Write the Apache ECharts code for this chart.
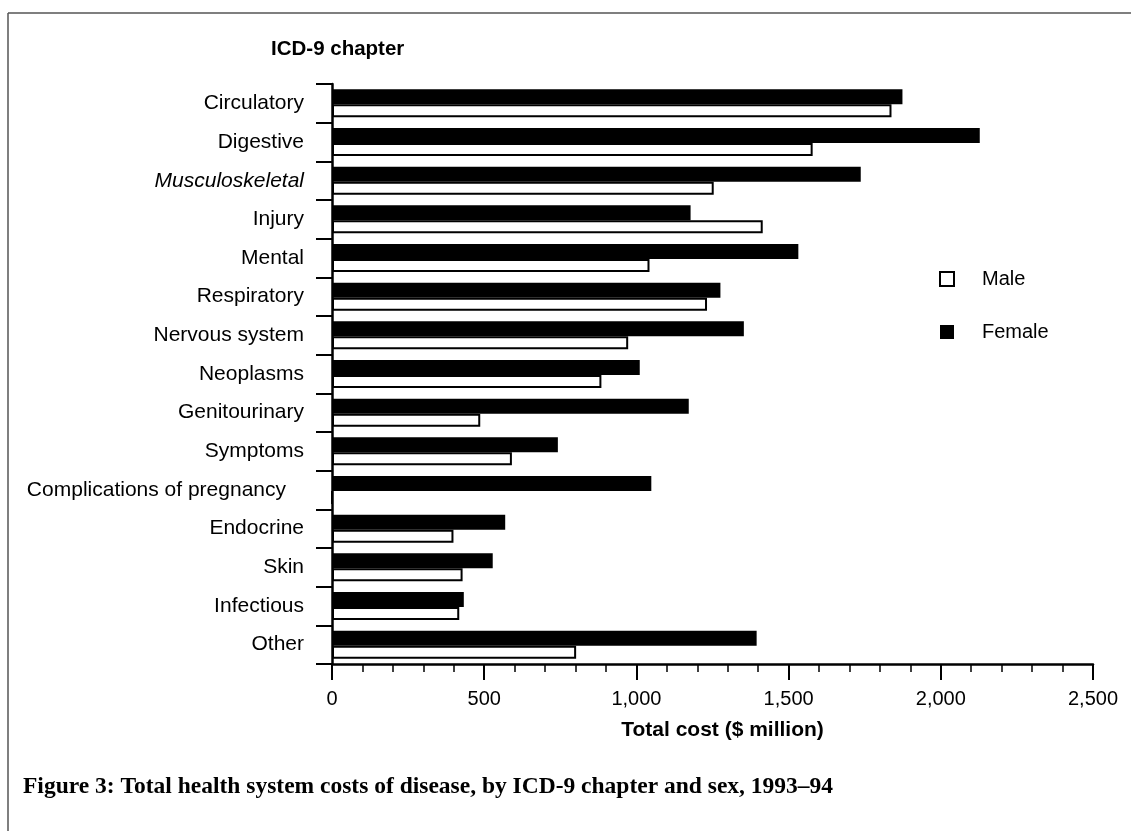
<!DOCTYPE html>
<html>
<head>
<meta charset="utf-8">
<title>Total health system costs of disease</title>
<script src="https://cdn.jsdelivr.net/npm/echarts@6/dist/echarts.min.js"></script>
<style>
    html, body { margin: 0; padding: 0; background: #fff; }
    #main { width: 1131px; height: 831px; }
</style>
</head>
<body>
<div id="main"></div>
<script>
    // ICD-9 chapters, top to bottom
    var chapters = ['Circulatory', 'Digestive', 'Musculoskeletal', 'Injury', 'Mental', 'Respiratory',
        'Nervous system', 'Neoplasms', 'Genitourinary', 'Symptoms', 'Complications of pregnancy',
        'Endocrine', 'Skin', 'Infectious', 'Other'];
    // total cost, $ million
    var female = [1874, 2128, 1737, 1178, 1532, 1276, 1353, 1011, 1172, 742, 1049, 569, 528, 433, 1395];
    var male = [1838, 1579, 1254, 1415, 1043, 1232, 973, 885, 487, 591, 0, 399, 429, 418, 802];
    var legendNames = ['Male', 'Female'];
    var xMax = 2500;
    var xStep = 500;

    var myChart = echarts.init(document.getElementById('main'));
    var option = {
        backgroundColor: '#fff',
        animation: false,
        textStyle: { fontFamily: 'Liberation Sans, Arial, sans-serif', color: '#000' },
        title: [
            {
                text: 'ICD-9 chapter',
                left: 266, top: 34,
                textStyle: { fontSize: 20.5, fontWeight: 'bold', color: '#000', fontFamily: 'Liberation Sans' }
            },
            {
                text: 'Figure 3: Total health system costs of disease, by ICD-9 chapter and sex, 1993\u201394',
                left: 18, top: 770,
                textStyle: { fontSize: 23.5, fontWeight: 'bold', color: '#000', fontFamily: 'Liberation Serif' }
            }
        ],
        legend: {
            orient: 'vertical',
            left: 934, top: 264,
            icon: 'rect',
            itemWidth: 14, itemHeight: 14,
            itemGap: 33,
            data: [
                { name: legendNames[0], itemStyle: { color: '#fff', borderColor: '#000', borderWidth: 2 } },
                { name: legendNames[1], itemStyle: { color: '#000', borderWidth: 0 } }
            ],
            textStyle: { fontSize: 20, color: '#000', padding: [0, 0, 0, 23] }
        },
        grid: { left: 332, right: 38, top: 84, bottom: 167 },
        xAxis: {
            type: 'value',
            min: 0, max: xMax, interval: xStep,
            name: 'Total cost ($ million)',
            nameLocation: 'middle',
            nameGap: 56,
            nameTextStyle: { fontSize: 21, fontWeight: 'bold', color: '#000', padding: [0, 0, 0, 20] },
            axisLine: { show: true, lineStyle: { color: '#000', width: 2.5 } },
            axisTick: { show: true, length: 16, lineStyle: { color: '#000', width: 2 } },
            minorTick: { show: true, splitNumber: 5, length: 8, lineStyle: { color: '#000', width: 1.5 } },
            splitLine: { show: false },
            axisLabel: {
                fontSize: 20, color: '#000', margin: 25,
                formatter: function (v) { return v.toLocaleString('en-US'); }
            }
        },
        yAxis: {
            type: 'category',
            inverse: true,
            data: chapters,
            axisLine: { show: true, lineStyle: { color: '#000', width: 2.5 } },
            axisTick: { show: true, length: 16, lineStyle: { color: '#000', width: 2 } },
            axisLabel: {
                fontSize: 21, color: '#000', margin: 28,
                formatter: function (v) {
                    if (v === 'Musculoskeletal') return '{i|' + v + '}';
                    if (v === 'Complications of pregnancy') return '{p|' + v + '}';
                    return v;
                },
                rich: {
                    i: { fontSize: 21, fontStyle: 'italic', color: '#000' },
                    p: { fontSize: 21, color: '#000', padding: [0, 18, 0, 0] }
                }
            }
        },
        series: [
            {
                name: 'Female',
                type: 'bar',
                data: female,
                barWidth: 15,
                barGap: '0%',
                itemStyle: { color: '#000' }
            },
            {
                name: 'Male',
                type: 'bar',
                data: male,
                barWidth: 13,
                barGap: '0%',
                itemStyle: { color: '#fff', borderColor: '#000', borderWidth: 2 }
            }
        ],
        graphic: [
            // scanned page frame
            { type: 'line', shape: { x1: 8, y1: 13, x2: 1131, y2: 13 }, style: { stroke: '#555', lineWidth: 1.5 } },
            { type: 'line', shape: { x1: 8, y1: 13, x2: 8, y2: 831 }, style: { stroke: '#555', lineWidth: 1.5 } }
        ]
    };
    myChart.setOption(option);
</script>
</body>
</html>
